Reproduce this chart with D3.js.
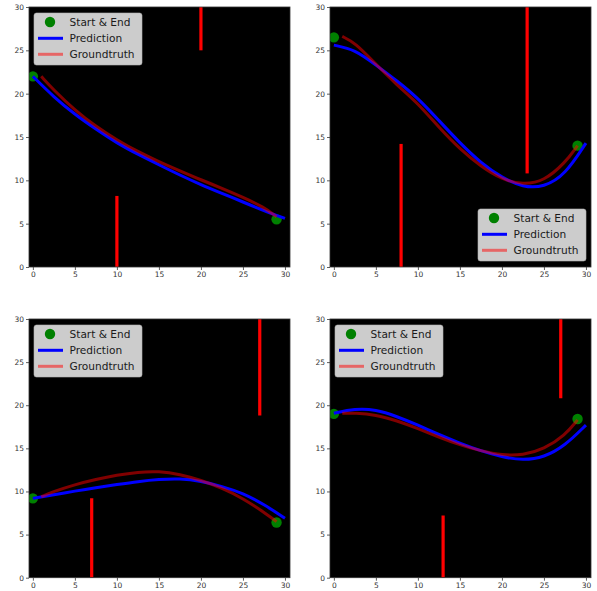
<!DOCTYPE html>
<html lang="en">
<head>
    <meta charset="UTF-8">
    <title>Trajectories</title>
    <style>
        body {
            margin: 0;
            padding: 0;
            background-color: #ffffff;
            font-family: 'DejaVu Sans', sans-serif;
        }
    </style>
</head>
<body>
    <svg id="chart" width="597" height="591"></svg>
    <script src="https://d3js.org/d3.v7.min.js"></script>
    <script>
        // sample positions along x for the two curves
        const predX = [0, 2.5, 5, 7.5, 10, 12.5, 15, 17.5, 20, 22.5, 25, 27.5, 30];
        const truthX = [1, 2.5, 5, 7.5, 10, 12.5, 15, 17.5, 20, 22.5, 25, 27.5, 29];

        const predY1 = [22.0, 19.6, 17.6, 15.9, 14.3, 13.0, 11.8, 10.6, 9.5, 8.5, 7.5, 6.5, 5.6];
        const truthY1 = [22.0, 20.4, 18.1, 16.2, 14.65, 13.3, 12.15, 11.1, 10.05, 9.1, 8.05, 6.9, 5.8];
        const predY2 = [25.6, 25.1, 23.3, 21.5, 19.5, 16.9, 14.3, 12.0, 10.3, 9.2, 9.2, 10.6, 14.3];
        const truthY2 = [26.6, 25.9, 23.4, 21.0, 18.9, 16.1, 13.6, 11.6, 10.1, 9.5, 9.9, 12.0, 14.0];
        const predY3 = [9.2, 9.6, 10.05, 10.45, 10.8, 11.15, 11.4, 11.5, 11.2, 10.6, 9.8, 8.5, 6.9];
        const truthY3 = [9.4, 10.0, 10.8, 11.4, 11.9, 12.25, 12.35, 12.0, 11.3, 10.4, 9.2, 7.6, 6.5];
        const predY4 = [19.06, 19.6, 19.5, 18.7, 17.7, 16.6, 15.6, 14.7, 14.0, 13.6, 13.95, 15.3, 17.7];
        const truthY4 = [19.06, 19.1, 18.9, 18.2, 17.3, 16.3, 15.4, 14.7, 14.2, 14.2, 14.9, 16.5, 18.3];

        // start & end points: [x, y]
        const ends1 = [[0, 22.0], [29, 5.5]];
        const ends2 = [[0, 26.5], [29, 14.0]];
        const ends3 = [[0, 9.2], [29, 6.4]];
        const ends4 = [[0, 19.0], [29, 18.4]];

        // obstacles: [x, yFrom, yTo]
        const walls1 = [[20, 25.0, 30], [10, 0, 8.2]];
        const walls2 = [[8, 0, 14.2], [23, 10.8, 30]];
        const walls3 = [[7, 0, 9.2], [27, 18.8, 30]];
        const walls4 = [[13, 0, 7.2], [27, 20.8, 30]];

        const ticks = [0, 5, 10, 15, 20, 25, 30];
        const legendLabels = ["Start & End", "Prediction", "Groundtruth"];

        const panels = [
            {left: 29, top: 7, w: 261, h: 260, pred: predY1, truth: truthY1, ends: ends1, walls: walls1, legend: "ul"},
            {left: 330, top: 7, w: 261, h: 260, pred: predY2, truth: truthY2, ends: ends2, walls: walls2, legend: "lr"},
            {left: 29, top: 319, w: 261, h: 258.7, pred: predY3, truth: truthY3, ends: ends3, walls: walls3, legend: "ul"},
            {left: 330, top: 319, w: 261, h: 258.7, pred: predY4, truth: truthY4, ends: ends4, walls: walls4, legend: "ul"}
        ];

        const svg = d3.select("#chart");

        panels.forEach((p, k) => {
            const g = svg.append("g").attr("transform", `translate(${p.left}, ${p.top})`);
            const x = d3.scaleLinear().domain([-0.46, 30.6]).range([0, p.w]);
            const y = d3.scaleLinear().domain([0, 30]).range([p.h, 0]);

            g.append("rect").attr("width", p.w).attr("height", p.h).attr("fill", "#000000");

            g.append("defs").append("clipPath").attr("id", "clip" + k)
                .append("rect").attr("width", p.w).attr("height", p.h);
            const plot = g.append("g").attr("clip-path", `url(#clip${k})`);

            plot.selectAll("line.wall")
                .data(p.walls)
                .enter()
                .append("line")
                .attr("class", "wall")
                .attr("x1", d => x(d[0]))
                .attr("x2", d => x(d[0]))
                .attr("y1", d => y(d[1]))
                .attr("y2", d => y(d[2]))
                .attr("stroke", "#ff0000")
                .attr("stroke-width", 3.2);

            plot.selectAll("circle")
                .data(p.ends)
                .enter()
                .append("circle")
                .attr("cx", d => x(d[0]))
                .attr("cy", d => y(d[1]))
                .attr("r", 5.2)
                .attr("fill", "#008000");

            const line = d3.line().x(d => x(d[0])).y(d => y(d[1])).curve(d3.curveBasis);

            plot.append("path")
                .attr("d", line(predX.map((v, i) => [v, p.pred[i]])))
                .attr("fill", "none")
                .attr("stroke", "#0000ff")
                .attr("stroke-width", 3);

            plot.append("path")
                .attr("d", line(truthX.map((v, i) => [v, p.truth[i]])))
                .attr("fill", "none")
                .attr("stroke", "#ff0000")
                .attr("stroke-opacity", 0.5)
                .attr("stroke-width", 3);

            g.append("rect").attr("width", p.w).attr("height", p.h)
                .attr("fill", "none").attr("stroke", "#333333").attr("stroke-width", 0.8);

            const xAxis = g.append("g").attr("transform", `translate(0, ${p.h})`)
                .call(d3.axisBottom(x).tickValues(ticks).tickSize(3).tickPadding(2));
            const yAxis = g.append("g")
                .call(d3.axisLeft(y).tickValues(ticks).tickSize(3).tickPadding(2));
            [xAxis, yAxis].forEach(a => {
                a.select(".domain").remove();
                a.selectAll("line").attr("stroke", "#333333").attr("stroke-width", 0.8);
                a.selectAll("text").attr("fill", "#333333").style("font-size", "7.5px")
                    .style("font-family", "'DejaVu Sans', sans-serif");
            });

            // legend
            const lw = 108, lh = 52;
            const lx = p.legend === "ul" ? 5 : p.w - lw - 5;
            const ly = p.legend === "ul" ? 6 : p.h - lh - 6;
            const leg = g.append("g").attr("transform", `translate(${lx}, ${ly})`);
            leg.append("rect").attr("width", lw).attr("height", lh).attr("rx", 2.5)
                .attr("fill", "#cccccc").attr("stroke", "#b3b3b3").attr("stroke-width", 0.6);
            const rows = [9, 25.3, 41.3];
            leg.append("circle").attr("cx", 16).attr("cy", rows[0]).attr("r", 5.2).attr("fill", "#008000");
            leg.append("line").attr("x1", 4).attr("x2", 29).attr("y1", rows[1]).attr("y2", rows[1])
                .attr("stroke", "#0000ff").attr("stroke-width", 3);
            leg.append("line").attr("x1", 4).attr("x2", 29).attr("y1", rows[2]).attr("y2", rows[2])
                .attr("stroke", "#e66666").attr("stroke-width", 3);
            leg.selectAll("text")
                .data(legendLabels)
                .enter()
                .append("text")
                .attr("x", 35.5)
                .attr("y", (d, i) => rows[i])
                .attr("dy", "0.35em")
                .attr("fill", "#1a1a1a")
                .style("font-size", "10.6px")
                .style("font-family", "'DejaVu Sans', sans-serif")
                .text(d => d);
        });
    </script>
</body>
</html>
